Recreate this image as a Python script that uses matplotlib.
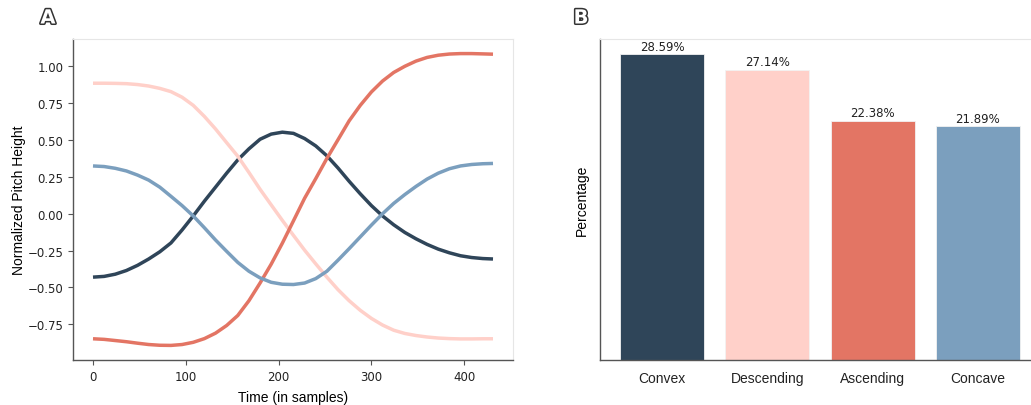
import matplotlib
matplotlib.use("Agg")
import matplotlib.pyplot as plt
import matplotlib.patheffects as pe

# ---- data ----
time_samples = [0, 12, 24, 36, 48, 60, 72, 84, 96, 108, 120, 132, 144, 156, 168, 180, 192, 204, 216,
                228, 240, 252, 264, 276, 288, 300, 312, 324, 336, 348, 360, 372, 384, 396, 408, 420, 431]
convex = [-0.430, -0.425, -0.410, -0.385, -0.350, -0.307, -0.258, -0.198, -0.110, -0.015, 0.085, 0.180,
          0.275, 0.365, 0.440, 0.505, 0.540, 0.553, 0.545, 0.510, 0.460, 0.393, 0.310, 0.220, 0.135,
          0.055, -0.015, -0.075, -0.127, -0.170, -0.208, -0.240, -0.265, -0.285, -0.297, -0.304, -0.307]
descending = [0.885, 0.885, 0.884, 0.882, 0.876, 0.866, 0.850, 0.828, 0.790, 0.735, 0.660, 0.575,
              0.482, 0.390, 0.280, 0.166, 0.060, -0.045, -0.147, -0.247, -0.340, -0.430, -0.515,
              -0.590, -0.655, -0.710, -0.755, -0.790, -0.812, -0.826, -0.836, -0.843, -0.847, -0.849,
              -0.849, -0.848, -0.848]
ascending = [-0.848, -0.852, -0.860, -0.868, -0.878, -0.887, -0.892, -0.893, -0.887, -0.872, -0.847,
             -0.810, -0.758, -0.690, -0.590, -0.470, -0.342, -0.200, -0.048, 0.105, 0.238, 0.375,
             0.502, 0.630, 0.735, 0.826, 0.900, 0.958, 1.000, 1.035, 1.060, 1.075, 1.083, 1.086,
             1.086, 1.084, 1.082]
concave = [0.324, 0.320, 0.308, 0.290, 0.262, 0.228, 0.180, 0.118, 0.055, -0.015, -0.095, -0.178,
           -0.255, -0.330, -0.390, -0.435, -0.465, -0.478, -0.480, -0.470, -0.440, -0.390, -0.315,
           -0.237, -0.157, -0.077, 0.000, 0.070, 0.130, 0.185, 0.235, 0.275, 0.305, 0.324, 0.334,
           0.339, 0.341]

categories = ["Convex", "Descending", "Ascending", "Concave"]
percentages = [28.59, 27.14, 22.38, 21.89]

colors = {"Convex": "#2F4559", "Descending": "#FFD0C9", "Ascending": "#E37564", "Concave": "#7B9FBE"}

W, H = 1031, 406
fig = plt.figure(figsize=(W / 100, H / 100), dpi=100)

label_font = ["Liberation Sans", "DejaVu Sans"]

def style_axes(ax):
    for s in ("left", "bottom"):
        ax.spines[s].set_color("#555555")
        ax.spines[s].set_linewidth(1.0)
    for s in ("top", "right"):
        ax.spines[s].set_color("#e6e6e6")
        ax.spines[s].set_linewidth(0.8)
    ax.tick_params(axis="both", colors="#555555", labelcolor="#222222", labelsize=8.5, length=3.5)

# ---- panel A ----
axA = fig.add_axes([73 / W, (H - 361) / H, 440 / W, 321 / H])
series = [("Convex", convex), ("Descending", descending), ("Ascending", ascending), ("Concave", concave)]
for name, vals in series:
    axA.plot(time_samples, vals, color=colors[name], lw=2.5, solid_capstyle="butt",
             solid_joinstyle="round")
axA.set_xticks([0, 100, 200, 300, 400])
axA.set_yticks([-0.75, -0.5, -0.25, 0.0, 0.25, 0.5, 0.75, 1.0])
axA.set_xlabel("Time (in samples)", fontsize=10, family=label_font, labelpad=5)
axA.set_ylabel("Normalized Pitch Height", fontsize=10, family=label_font, labelpad=1)
style_axes(axA)

# ---- panel B ----
axB = fig.add_axes([600 / W, (H - 361) / H, 440 / W, 321 / H])
x = list(range(len(categories)))
bars = axB.bar(x, percentages, width=0.8, color=[colors[c] for c in categories],
               edgecolor="#f2f2f2", linewidth=0.6)
for xi, p in zip(x, percentages):
    axB.annotate(f"{p:.2f}%", (xi, p), xytext=(0, 1), textcoords="offset points",
                 ha="center", va="bottom", fontsize=8.5, color="#222222")
axB.set_xticks(x)
axB.set_xticklabels(categories, fontsize=10, family=label_font)
axB.set_yticks([])
axB.set_ylabel("Percentage", fontsize=10, family=label_font, labelpad=8)
style_axes(axB)
axB.tick_params(axis="x", labelsize=10, length=0, pad=8)

# ---- panel letters ----
for lx, txt in ((48 / W, "A"), (581 / W, "B")):
    t = fig.text(lx, 1 - 19 / H, txt, fontsize=14, fontweight="bold", color="white",
                 ha="center", va="center")
    t.set_path_effects([pe.Stroke(linewidth=2.2, foreground="#333333"), pe.Normal()])

fig.savefig("out.png", dpi=100)
